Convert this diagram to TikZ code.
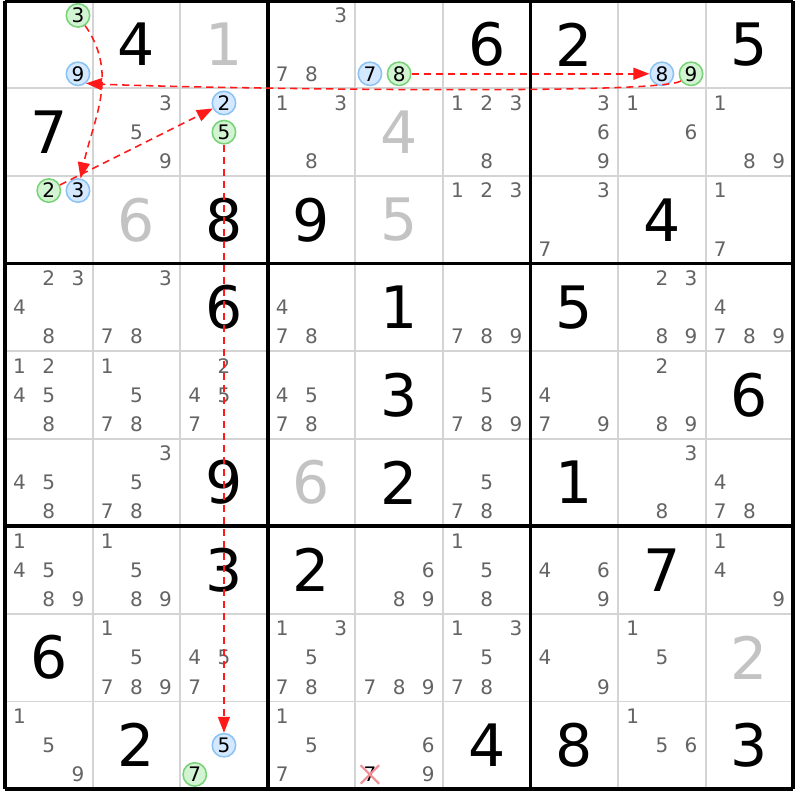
\documentclass[tikz,border=0pt]{standalone}
\usepackage{fontspec}
\setmainfont{DejaVu Sans}
\usetikzlibrary{arrows.meta,shapes.misc}

\definecolor{candgray}{RGB}{100,100,100}
\definecolor{solvedgray}{RGB}{195,195,195}
\definecolor{gridgray}{RGB}{212,212,212}
\definecolor{hlblue}{RGB}{212,232,255}
\definecolor{hlblueline}{RGB}{140,195,245}
\definecolor{hlgreen}{RGB}{210,244,210}
\definecolor{hlgreenline}{RGB}{120,210,120}
\definecolor{chainred}{RGB}{255,25,25}
\definecolor{crosspink}{RGB}{242,140,150}

\tikzset{
	every cand/.style={
		inner sep=0pt,
		font=\fontsize{6.5}{6.5}\selectfont,
		text=candgray },
	cand blue/.style={
		circle,
		draw=hlblueline,
		fill=hlblue,
		line width=0.5pt,
		minimum size=7.6pt,
		text=black },
	cand green/.style={
		circle,
		draw=hlgreenline,
		fill=hlgreen,
		line width=0.5pt,
		minimum size=7.6pt,
		text=black },
	given/.style={
		font=\fontsize{19}{19}\selectfont,
		text=black },
	solved/.style={
		font=\fontsize{19}{19}\selectfont,
		text=solvedgray },
	thin line/.style={draw=gridgray, line width=0.6pt},
	box line/.style={draw=black, line width=1.2pt},
	link/.style={
		draw=chainred,
		line width=0.5pt,
		dash pattern=on 2.3pt off 1.6pt,
		-{Triangle[length=5.2pt,width=3.9pt]} },
}

\begin{document}
\begin{tikzpicture}[x=1cm, y=1cm]

		\useasboundingbox (-0.057,-0.125) rectangle (9.055,9.009);
		\fill [white] (-0.057,-0.125) rectangle (9.055,9.009);

		% grid
		\foreach \i in {1,2,4,5,7,8}
		{
		\draw [thin line] (\i,0) -- (\i,9);
		\draw [thin line] (0,\i) -- (9,\i);
		}
		\foreach \i in {0,3,6,9}
		{
		\draw [box line] (\i,0) -- (\i,9);
		\draw [box line] (0,\i) -- (9,\i);
		}

		% given and solved digits
		\foreach \r/\c/\d in {1/2/4,1/6/6,1/7/2,1/9/5,2/1/7,3/3/8,3/4/9,3/8/4,
			4/3/6,4/5/1,4/7/5,5/5/3,5/9/6,6/3/9,6/5/2,6/7/1,7/3/3,7/4/2,7/8/7,
			8/1/6,9/2/2,9/6/4,9/7/8,9/9/3}
		\node [given] (cell-\r-\c) at (\c-0.5,9.5-\r) {\d};

		\foreach \r/\c/\d in {1/3/1,2/5/4,3/2/6,3/5/5,6/4/6,8/9/2}
		\node [solved] (cell-\r-\c) at (\c-0.5,9.5-\r) {\d};

		% candidates
		\foreach \r/\c/\ds in {1/4/{3,7,8},2/2/{3,5,9},2/4/{1,3,8},2/6/{1,2,3,8},
			2/7/{3,6,9},2/8/{1,6},2/9/{1,8,9},3/6/{1,2,3},3/7/{3,7},3/9/{1,7},
			4/1/{2,3,4,8},4/2/{3,7,8},4/4/{4,7,8},4/6/{7,8,9},4/8/{2,3,8,9},
			4/9/{4,7,8,9},5/1/{1,2,4,5,8},5/2/{1,5,7,8},5/3/{2,4,5,7},
			5/4/{4,5,7,8},5/6/{5,7,8,9},5/7/{4,7,9},5/8/{2,8,9},6/1/{4,5,8},
			6/2/{3,5,7,8},6/6/{5,7,8},6/8/{3,8},6/9/{4,7,8},7/1/{1,4,5,8,9},
			7/2/{1,5,8,9},7/5/{6,8,9},7/6/{1,5,8},7/7/{4,6,9},7/9/{1,4,9},
			8/2/{1,5,7,8,9},8/3/{4,5,7},8/4/{1,3,5,7,8},8/5/{7,8,9},
			8/6/{1,3,5,7,8},8/7/{4,9},8/8/{1,5},9/1/{1,5,9},9/4/{1,5,7},
			9/5/{6,9},9/8/{1,5,6}}
		\foreach \d in \ds
		\node [every cand] (cand-\r-\c-\d)
			at ({\c-5/6+mod(\d-1,3)/3},{10-\r-1/6-int((\d-1)/3)/3}) {\d};

		% chain candidates
		\foreach \r/\c/\d/\k in {1/1/3/green,1/1/9/blue,1/5/7/blue,1/5/8/green,
			1/8/8/blue,1/8/9/green,2/3/2/blue,2/3/5/green,3/1/2/green,
			3/1/3/blue,9/3/5/blue,9/3/7/green}
		\node [every cand, cand \k] (cand-\r-\c-\d)
			at ({\c-5/6+mod(\d-1,3)/3},{10-\r-1/6-int((\d-1)/3)/3}) {\d};

		% eliminated candidate
		\node [every cand, text=black] (cand-9-5-7) at (4+1/6,1/6) {7};
		\node [cross out, draw=crosspink, line width=0.7pt, minimum size=5.3pt,
			inner sep=0pt] (elim-9-5-7) at (cand-9-5-7) {};

		% links
		\draw [link] (cand-1-1-3) to [out=-55, in=78] (cand-3-1-3);
		\draw [link] (cand-1-8-9) .. controls +(215:0.45) and +(-3:0.9) .. (cand-1-1-9.-50);
		\draw [link] (cand-3-1-2) -- (cand-2-3-2);
		\draw [link] (cand-2-3-5) -- (cand-9-3-5);
		\draw [link] (cand-1-5-8) -- (cand-1-8-8);
	\end{tikzpicture}
\end{document}
